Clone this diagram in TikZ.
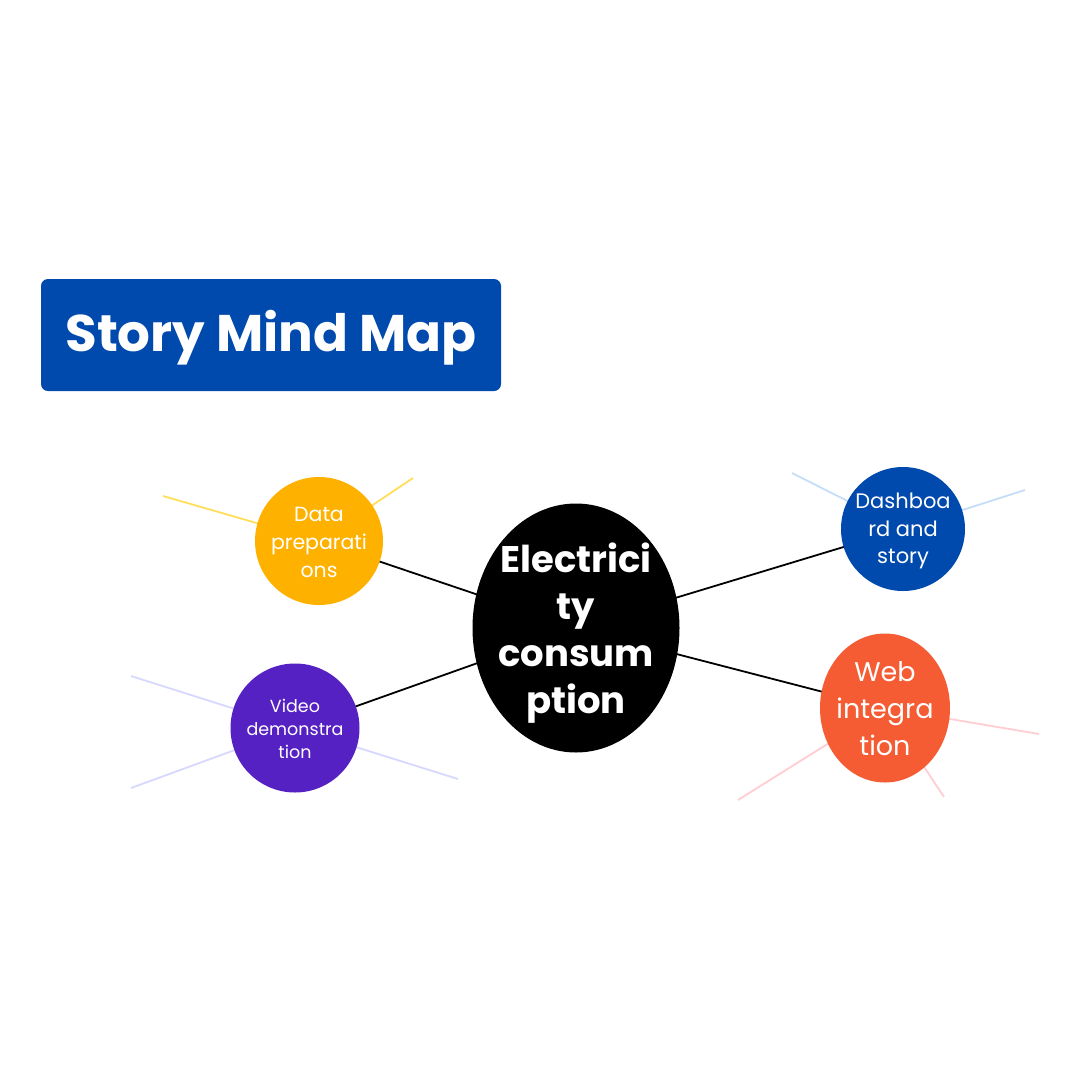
\documentclass[tikz,border=0pt]{standalone}
\usepackage{fontspec}
\setmainfont{Poppins}
\usetikzlibrary{shapes.geometric}
\pgfdeclarelayer{bg}
\pgfsetlayers{bg,main}

\definecolor{royal}{HTML}{004AAD}
\definecolor{amber}{HTML}{FFB100}
\definecolor{violet}{HTML}{5521C2}
\definecolor{coral}{HTML}{F55C33}
\definecolor{paleyellow}{HTML}{FFDE59}
\definecolor{lavender}{HTML}{D8D8FF}
\definecolor{paleblue}{HTML}{C6DDF8}
\definecolor{palepink}{HTML}{FFCDD2}

\tikzset{
  bubble/.style={circle, inner sep=0pt, outer sep=0pt, draw=none},
  oval/.style={ellipse, inner sep=0pt, outer sep=0pt, draw=none},
  bubbletext/.style={text=white, align=center, inner sep=0pt},
  link/.style={black, line width=1.8pt},
  twig/.style={line width=1.8pt},
}

\begin{document}
\begin{tikzpicture}[x=1pt,y=-1pt]
  \useasboundingbox (0,0) rectangle (1080,1080);

  % title banner
  \node[fill=royal, rounded corners=7pt, minimum width=460pt, minimum height=112pt,
        inner sep=0pt] (title) at (271,335) {};
  \node[text=white, inner sep=0pt, font=\bfseries\fontsize{51.5}{60}\selectfont]
        (titletext) at (271,338) {Story Mind Map};

  % central topic
  \node[oval, fill=black, minimum width=207pt, minimum height=249pt] (hub) at (576,628) {};
  \node[bubbletext, font=\bfseries\fontsize{37}{47}\selectfont] (hubtext) at (576,633)
       {Electrici\\ty\\consum\\ption};

  % branches
  \node[bubble, fill=amber, minimum size=128pt] (data) at (319,541) {};
  \node[bubbletext, font=\fontsize{20.5}{28}\selectfont] (datatext) at (319,542)
       {Data\\preparati\\ons};

  \node[bubble, fill=violet, minimum size=129pt] (video) at (295,728) {};
  \node[bubbletext, font=\fontsize{17.5}{23}\selectfont] (videotext) at (295,729)
       {Video\\demonstra\\tion};

  \node[bubble, fill=royal, minimum size=124pt] (dash) at (903,529) {};
  \node[bubbletext, font=\fontsize{21}{27.5}\selectfont] (dashtext) at (903,531)
       {Dashboa\\rd and\\story};

  \node[oval, fill=coral, minimum width=130pt, minimum height=149pt] (web) at (885,708) {};
  \node[bubbletext, font=\fontsize{27}{37}\selectfont] (webtext) at (885,709)
       {Web\\integra\\tion};

  % free ends of the minor twigs
  \coordinate (d1) at (163,496);
  \coordinate (d2) at (413,478);
  \coordinate (v1) at (131,676);
  \coordinate (v2) at (131,788);
  \coordinate (v3) at (458,779);
  \coordinate (b1) at (792,473);
  \coordinate (b2) at (1025,490);
  \coordinate (w1) at (1039,734);
  \coordinate (w2) at (738,800);
  \coordinate (w3) at (944,797);

  \begin{pgfonlayer}{bg}
    \fill[white] (0,0) rectangle (1080,1080);

    \draw[link] (hub.center) -- (data.center);
    \draw[link] (hub.center) -- (video.center);
    \draw[link] (hub.center) -- (dash.center);
    \draw[link] (hub.center) -- (web.center);

    \draw[twig, paleyellow] (d1) -- (data.center);
    \draw[twig, paleyellow] (d2) -- (data.center);
    \draw[twig, lavender] (v1) -- (video.center);
    \draw[twig, lavender] (v2) -- (video.center);
    \draw[twig, lavender] (v3) -- (video.center);
    \draw[twig, paleblue] (b1) -- (dash.center);
    \draw[twig, paleblue] (b2) -- (dash.center);
    \draw[twig, palepink] (w1) -- (web.center);
    \draw[twig, palepink] (w2) -- (web.center);
    \draw[twig, palepink] (w3) -- (web.center);
  \end{pgfonlayer}
\end{tikzpicture}
\end{document}
